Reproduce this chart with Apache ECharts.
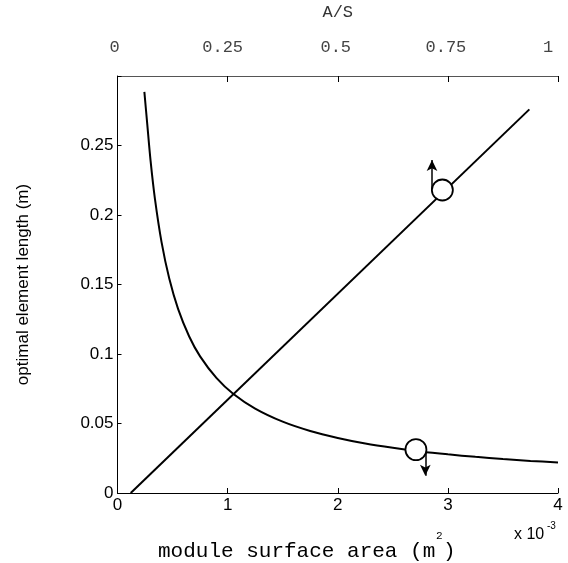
<!DOCTYPE html>
<html>
<head>
<meta charset="utf-8">
<script src="https://cdn.jsdelivr.net/npm/echarts@6/dist/echarts.min.js"></script>
<style>
  html, body { margin: 0; padding: 0; background: #fff; }
  #chart { width: 568px; height: 563px; }
</style>
</head>
<body>
<div id="chart"></div>
<script>
// Surface area in units of 1e-3 m^2
const areaTicks = [0, 1, 2, 3, 4];
const ratioTicks = [0, 0.25, 0.5, 0.75, 1];
const lengthTicks = [0, 0.05, 0.1, 0.15, 0.2, 0.25];

// Falling curve: optimal element length vs. module surface area
const curveArea = [0.244, 0.27, 0.30, 0.34, 0.40, 0.47, 0.55, 0.65, 0.75, 0.90, 1.05, 1.25, 1.5, 1.75, 2.0, 2.25, 2.5, 2.75, 3.0, 3.25, 3.5, 3.75, 4.0];
const curveLength = [0.2886, 0.2656, 0.2393, 0.2116, 0.1805, 0.1543, 0.1325, 0.1128, 0.0983, 0.0826, 0.0714, 0.0607, 0.0513, 0.0446, 0.0396, 0.0356, 0.0325, 0.0299, 0.0278, 0.0260, 0.0244, 0.0231, 0.0219];

// Rising straight line (read against the A/S scale, drawn on the area axis)
const lineArea = [0.12, 3.74];
const lineLength = [0.0, 0.276];

// Open-circle markers identifying each curve, with arrows to its axis side
const markerArea = [2.95, 2.71];
const markerLength = [0.218, 0.0312];
const arrowArea = [2.856, 2.795];
const arrowFrom = [0.2175, 0.0312];
const arrowTo = [0.2395, 0.0125];

const sans = 'Liberation Sans, Arial, sans-serif';
const mono = 'Liberation Mono, Courier New, monospace';

// Leftward nudge (px) of the top tick labels
const topLabelNudge = { '0': 3, '0.25': 5, '0.5': 2, '0.75': 2, '1': 10 };

const chart = echarts.init(document.getElementById('chart'));

const arrowLines = arrowArea.map((x, i) => [
  { coord: [x, arrowFrom[i]] },
  { coord: [x, arrowTo[i]] }
]);

const topRich = {};
Object.keys(topLabelNudge).forEach((k, i) => {
  topRich['t' + i] = {
    color: '#444', fontFamily: mono, fontSize: 17,
    padding: [0, topLabelNudge[k] * 2, 0, 0]
  };
});

chart.setOption({
  animation: false,
  grid: { left: 117.5, right: 10, top: 76, bottom: 70, outerBoundsMode: 'none', containLabel: false },
  xAxis: [
    {
      type: 'value', position: 'bottom',
      min: areaTicks[0], max: areaTicks[areaTicks.length - 1], interval: 1,
      axisLine: { lineStyle: { color: '#000', width: 1 } },
      axisTick: { inside: true, length: 5, lineStyle: { color: '#000' } },
      axisLabel: { color: '#000', fontFamily: sans, fontSize: 17, margin: 4 },
      splitLine: { show: false }
    },
    {
      type: 'value', position: 'top',
      min: ratioTicks[0], max: ratioTicks[ratioTicks.length - 1], interval: 0.25,
      name: 'A/S', nameLocation: 'middle', nameGap: 55,
      nameTextStyle: { color: '#333', fontFamily: mono, fontSize: 17 },
      axisLine: { onZero: false, lineStyle: { color: '#555', width: 1 } },
      axisTick: { inside: true, length: 6, lineStyle: { color: '#000' } },
      axisLabel: {
        color: '#444', fontFamily: mono, fontSize: 17, margin: 20,
        formatter: v => {
          const keys = Object.keys(topLabelNudge);
          const idx = keys.indexOf(String(v));
          return idx < 0 ? String(v) : '{t' + idx + '|' + v + '}';
        },
        rich: topRich
      },
      splitLine: { show: false }
    }
  ],
  yAxis: {
    type: 'value',
    min: 0, max: 0.3, interval: 0.05,
    name: 'optimal element length (m)', nameLocation: 'middle', nameGap: 86,
    nameRotate: 90,
    nameTextStyle: { color: '#000', fontFamily: sans, fontSize: 17 },
    axisLine: { show: true, lineStyle: { color: '#000', width: 1 } },
    axisTick: { show: true, inside: true, length: 4, lineStyle: { color: '#000' } },
    axisLabel: {
      color: '#000', fontFamily: sans, fontSize: 17, margin: 4,
      formatter: v => {
        const t = lengthTicks.find(s => Math.abs(s - v) < 1e-9);
        return t === undefined ? '' : String(t);
      }
    },
    splitLine: { show: false }
  },
  series: [
    {
      type: 'line', xAxisIndex: 0,
      data: curveArea.map((x, i) => [x, curveLength[i]]),
      smooth: 0.3, showSymbol: false,
      lineStyle: { color: '#000', width: 2 }
    },
    {
      type: 'line', xAxisIndex: 0,
      data: lineArea.map((x, i) => [x, lineLength[i]]),
      showSymbol: false,
      lineStyle: { color: '#000', width: 2 },
      markLine: {
        silent: true, symbol: ['none', 'arrow'], symbolSize: [8, 11],
        label: { show: false },
        lineStyle: { color: '#000', width: 1.5, type: 'solid' },
        data: arrowLines
      }
    },
    {
      type: 'scatter', xAxisIndex: 0, z: 5,
      data: markerArea.map((x, i) => [x, markerLength[i]]),
      symbol: 'circle', symbolSize: 21,
      itemStyle: { color: '#fff', borderColor: '#000', borderWidth: 1.8, opacity: 1 }
    }
  ],
  graphic: [
    { type: 'text', left: 514, top: 527,
      style: { text: 'x 10', fontFamily: sans, fontSize: 16, fill: '#000' } },
    { type: 'text', left: 547, top: 521,
      style: { text: '-3', fontFamily: sans, fontSize: 10, fill: '#000' } },
    { type: 'text', left: 158, top: 541,
      style: { text: 'module surface area (m', fontFamily: mono, fontSize: 21, fill: '#000' } },
    { type: 'text', left: 436, top: 531,
      style: { text: '2', fontFamily: mono, fontSize: 11, fill: '#000' } },
    { type: 'text', left: 443, top: 541,
      style: { text: ')', fontFamily: mono, fontSize: 21, fill: '#000' } }
  ]
});
</script>
</body>
</html>
